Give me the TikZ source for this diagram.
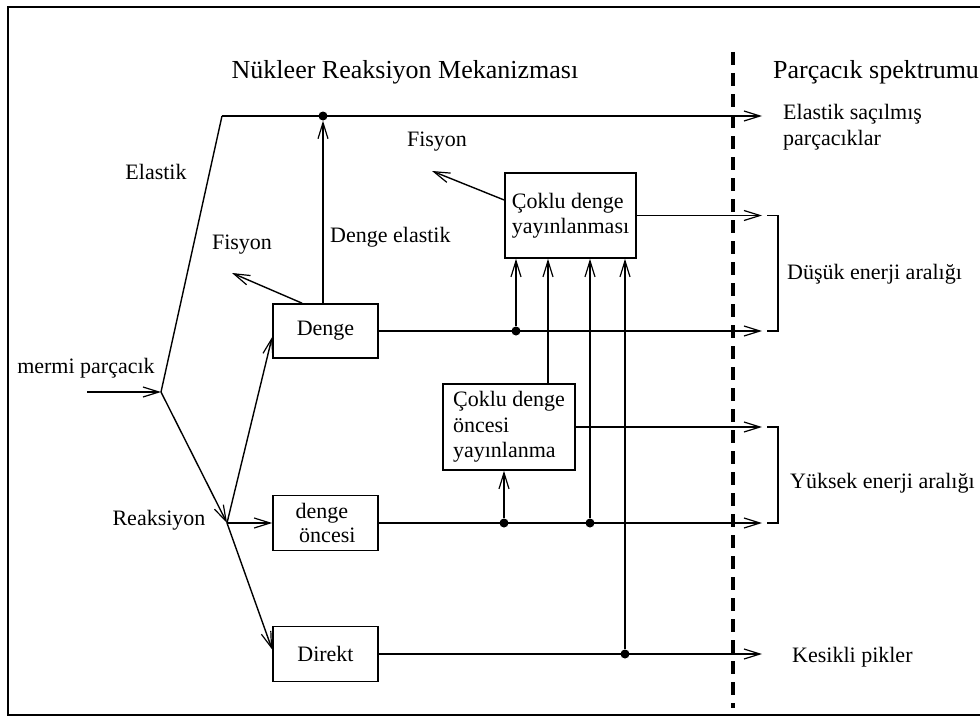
\documentclass[tikz,border=0pt]{standalone}
\usepackage{fontspec}
\setmainfont{Liberation Serif}
\usetikzlibrary{arrows.meta}
\begin{document}
\begin{tikzpicture}[x=1pt,y=-1pt,
  conn/.style={line width=1.4pt},
  arr/.style={conn,-{Straight Barb[length=16pt,width=10pt,line width=1.2pt]}},
  box/.style={draw,line width=1.7pt,inner sep=0pt,align=left,
    font=\fontsize{22}{25.5}\selectfont},
  lbl/.style={inner sep=0pt,font=\fontsize{22}{25.5}\selectfont},
  hdr/.style={inner sep=0pt,font=\fontsize{26}{30}\selectfont},
  jdot/.style={circle,fill,inner sep=0pt,minimum size=9pt}]
\useasboundingbox (0,0) rectangle (980,717);
% frame
\draw[line width=2pt] (995,7) -- (8,7) -- (8,715) -- (995,715);
% dashed separator
\draw[line width=3.5pt,dash pattern=on 13pt off 8pt] (733,52) -- (733,708);
% headers
\node[hdr] (title) at (405,72) {Nükleer Reaksiyon Mekanizması};
\node[hdr,anchor=west] (spec) at (773,72) {Parçacık spektrumu};
% boxes
\node[box,minimum width=105pt,minimum height=54pt] (denge) at (325.5,331) {Denge};
\node[box,minimum width=105pt,minimum height=55pt] (oncesi) at (325.5,523) {denge\\[-1pt]\,öncesi};
\node[box,minimum width=105pt,minimum height=55pt] (direkt) at (325.5,654) {Direkt};
\node[box,minimum width=131pt,minimum height=85pt] (coklu) at (570.5,215.5) {Çoklu denge\\yayınlanması};
\node[box,minimum width=132pt,minimum height=86pt] (coklub) at (509,427) {Çoklu denge\\öncesi\\yayınlanma};
% labels
\node[lbl] (mermi) at (86,368) {mermi parçacık};
\node[lbl] (elastik) at (156,172) {Elastik};
\node[lbl] (reak) at (159,520) {Reaksiyon};
\node[lbl] (fis1) at (242,245) {Fisyon};
\node[lbl] (fis2) at (437,142) {Fisyon};
\node[lbl,anchor=west] (delast) at (330,237) {Denge elastik};
\node[lbl,anchor=west,align=left] (esac) at (783,127) {Elastik saçılmış\\parçacıklar};
\node[lbl,anchor=west] (dusuk) at (787,274) {Düşük enerji aralığı};
\node[lbl,anchor=west] (yuksek) at (790,483) {Yüksek enerji aralığı};
\node[lbl,anchor=west] (kesik) at (792,657) {Kesikli pikler};
% coordinates
\coordinate (m0) at (87,392);
\coordinate (j0) at (161,392);
\coordinate (j1) at (227,523);
\coordinate (tl) at (222,116);
\coordinate (e1) at (762,116);
\coordinate (e2) at (762,215.5);
\coordinate (e3) at (762,331);
\coordinate (e4) at (762,427);
\coordinate (e5) at (762,523);
\coordinate (e6) at (762,654);
\coordinate (f1) at (232,273);
\coordinate (f2) at (432,171);
% dots
\node[jdot] (dtop) at (323,116) {};
\node[jdot] (d1) at (516,331) {};
\node[jdot] (d2) at (504,523) {};
\node[jdot] (d3) at (590,523) {};
\node[jdot] (d4) at (625,654) {};
\coordinate (x548) at (548,300);
% input and branches
\draw[arr] (m0) -- (j0);
\draw[conn] (j0) -- (tl);
\draw[arr] (tl) -- (e1);
\draw[arr] (j0) -- (j1);
\draw[arr] (j1) -- ([yshift=-6pt]denge.west);
\draw[arr] (j1) -- (oncesi.west);
\draw[arr] (j1) -- ([yshift=4.5pt]direkt.west);
% denge
\draw[arr] (denge.north -| dtop) -- (dtop);
\draw[arr] ([xshift=-23.5pt]denge.north) -- (f1);
\draw[arr] (denge.east) -- (e3);
\draw[arr] (d1) -- (d1 |- coklu.south);
% coklu
\draw[arr] ([yshift=15.5pt]coklu.west) -- (f2);
\draw[arr] (coklu.east) -- (e2);
\draw[arr] (x548 |- coklub.north) -- (x548 |- coklu.south);
\draw[arr] (d3) -- (d3 |- coklu.south);
\draw[arr] (d4) -- (d4 |- coklu.south);
% oncesi
\draw[arr] (oncesi.east) -- (e5);
\draw[arr] (d2) -- (d2 |- coklub.south);
\draw[arr] (coklub.east) -- (e4);
% direkt
\draw[arr] (direkt.east) -- (e6);
% brackets
\draw[conn] (767,215.5) -- (778,215.5) -- (778,331) -- (767,331);
\draw[conn] (767,427) -- (778,427) -- (778,523) -- (767,523);
\end{tikzpicture}
\end{document}
